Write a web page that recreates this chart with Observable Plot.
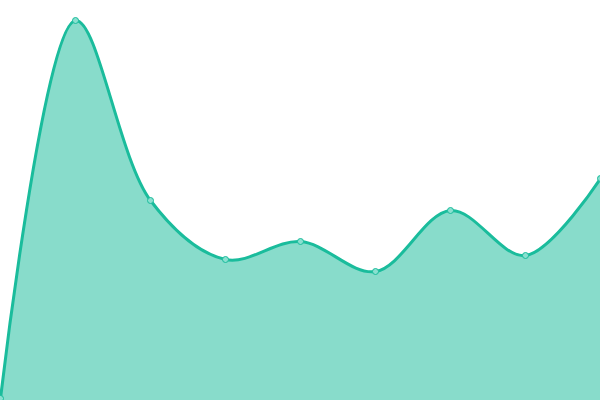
<!DOCTYPE html>
<html>
<head>
<meta charset="utf-8">
<script src="https://cdn.jsdelivr.net/npm/d3@7"></script>
<script src="https://cdn.jsdelivr.net/npm/@observablehq/plot@0.6"></script>
<style>
  html, body { margin: 0; padding: 0; background: #fff; }
  #chart svg { display: block; }
</style>
</head>
<body>
<div id="chart"></div>
<script>
const steps = [0, 1, 2, 3, 4, 5, 6, 7, 8];
const values = [2, 380, 200, 141, 159, 129, 190, 145, 222];

const data = steps.map((s, i) => ({ s, v: values[i] }));

const chart = Plot.plot({
  width: 600,
  height: 400,
  margin: 0,
  x: { domain: [0, 8], axis: null },
  y: { domain: [0, 400], axis: null },
  marks: [
    Plot.areaY(data, { x: "s", y: "v", curve: "catmull-rom", fill: "#1abc9c", fillOpacity: 0.52 }),
    Plot.lineY(data, { x: "s", y: "v", curve: "catmull-rom", stroke: "#1abc9c", strokeWidth: 3 }),
    Plot.dot(data, { x: "s", y: "v", r: 3, fill: "#8ae0d0", stroke: "#1abc9c", strokeWidth: 1 })
  ]
});
document.getElementById("chart").appendChild(chart);
</script>
</body>
</html>
